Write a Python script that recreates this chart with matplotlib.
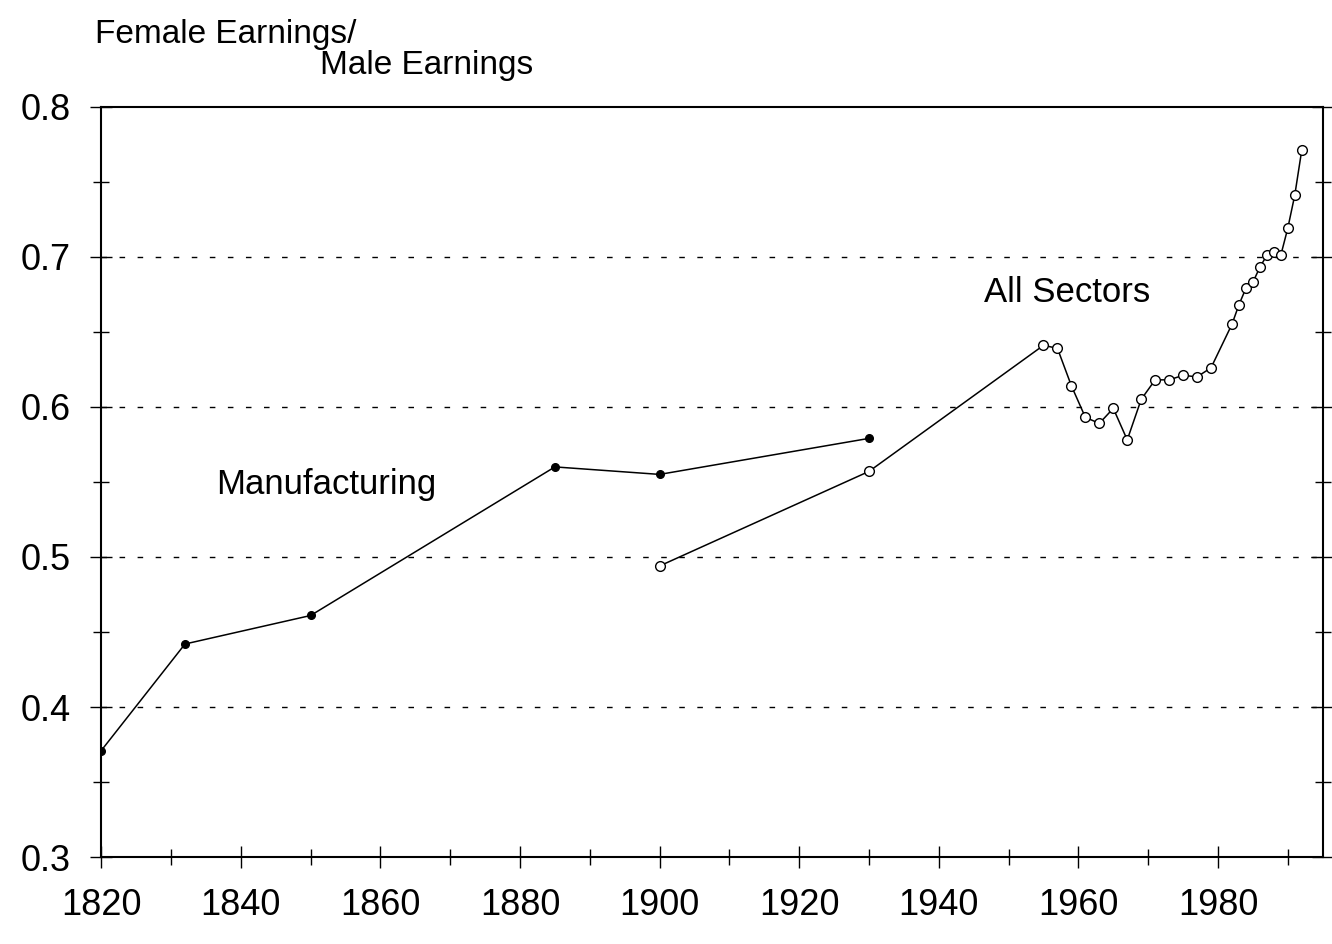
import matplotlib
matplotlib.use("Agg")
import matplotlib.pyplot as plt
from matplotlib.ticker import MultipleLocator

plt.rcParams['font.family'] = ['Liberation Sans', 'DejaVu Sans']

# Manufacturing (filled markers)
manuf_years = [1820, 1832, 1850, 1885, 1900, 1930]
manuf_ratio = [0.371, 0.442, 0.461, 0.560, 0.555, 0.579]

# All Sectors (open markers)
all_years = [1900, 1930, 1955, 1957, 1959, 1961, 1963, 1965, 1967, 1969,
             1971, 1973, 1975, 1977, 1979, 1982, 1983, 1984, 1985, 1986,
             1987, 1988, 1989, 1990, 1991, 1992]
all_ratio = [0.494, 0.557, 0.641, 0.639, 0.614, 0.593, 0.589, 0.599, 0.578,
             0.605, 0.618, 0.618, 0.621, 0.620, 0.626, 0.655, 0.668, 0.679,
             0.683, 0.693, 0.701, 0.703, 0.701, 0.719, 0.741, 0.771]

grid_levels = [0.4, 0.5, 0.6, 0.7]

fig = plt.figure(figsize=(13.32, 9.44), dpi=100)
ax = fig.add_axes([0.076, 0.092, 0.917, 0.795])

for g in grid_levels:
    ax.axhline(g, color='black', lw=1.0, ls=(0, (4, 9)), zorder=1)

ax.plot(manuf_years, manuf_ratio, color='black', lw=1.1, marker='o',
        ms=5.5, mfc='black', mec='black', zorder=3)
ax.plot(all_years, all_ratio, color='black', lw=1.1, marker='o',
        ms=7, mfc='white', mec='black', mew=1.0, zorder=3)

ax.text(1836.5, 0.548, "Manufacturing", fontsize=25, va='center', ha='left')
ax.text(1946.5, 0.676, "All Sectors", fontsize=25, va='center', ha='left')

ax.set_xlim(1820, 1995)
ax.set_ylim(0.3, 0.8)
ax.xaxis.set_major_locator(MultipleLocator(20))
ax.xaxis.set_minor_locator(MultipleLocator(10))
ax.yaxis.set_minor_locator(MultipleLocator(0.05))
ax.set_yticks([0.3, 0.4, 0.5, 0.6, 0.7, 0.8])
ax.set_yticklabels(['0.3', '0.4', '0.5', '0.6', '0.7', '0.8'])

ax.tick_params(axis='both', which='major', direction='inout', length=16,
               width=1.0, labelsize=26)
ax.tick_params(axis='both', which='minor', direction='inout', length=12,
               width=1.0)
ax.tick_params(axis='x', which='major', pad=14)
ax.tick_params(axis='y', which='major', pad=14)
ax.tick_params(axis='y', which='both', right=True)

for s in ax.spines.values():
    s.set_linewidth(1.5)
    s.set_color('black')

fig.text(0.071, 0.963, "Female Earnings/", fontsize=24, ha='left', va='center')
fig.text(0.240, 0.931, "Male Earnings", fontsize=24, ha='left', va='center')

fig.savefig("out.png", dpi=100)
